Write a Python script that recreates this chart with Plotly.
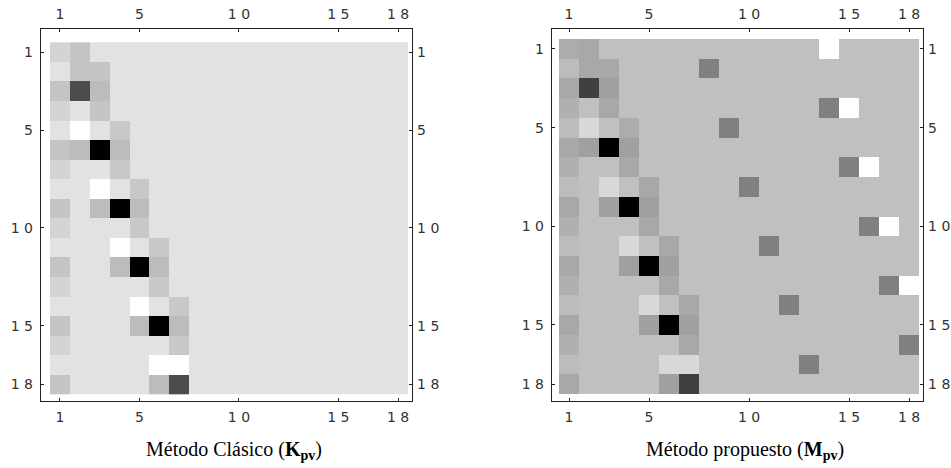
import plotly.graph_objects as go

# ---- data: gray levels (0 = black, 255 = white) ----
N = 18
cols = list(range(1, N + 1))
rows = list(range(1, N + 1))

tick_vals = [1, 5, 10, 15, 18]
tick_text = ["1", "5", "1 0", "1 5", "1 8"]

titles = ["Método Clásico (<b>K<sub>pv</sub></b>)",
          "Método propuesto (<b>M<sub>pv</sub></b>)"]

B = 226  # background, left matrix
K_pv = [
    [212, 196, B, B, B, B, B, B, B, B, B, B, B, B, B, B, B, B],
    [B, 196, 196, B, B, B, B, B, B, B, B, B, B, B, B, B, B, B],
    [196, 76, 188, B, B, B, B, B, B, B, B, B, B, B, B, B, B, B],
    [212, B, 196, B, B, B, B, B, B, B, B, B, B, B, B, B, B, B],
    [B, 255, B, 200, B, B, B, B, B, B, B, B, B, B, B, B, B, B],
    [196, 188, 0, 188, B, B, B, B, B, B, B, B, B, B, B, B, B, B],
    [212, B, B, 200, B, B, B, B, B, B, B, B, B, B, B, B, B, B],
    [B, B, 255, B, 200, B, B, B, B, B, B, B, B, B, B, B, B, B],
    [196, B, 188, 0, 188, B, B, B, B, B, B, B, B, B, B, B, B, B],
    [212, B, B, B, 200, B, B, B, B, B, B, B, B, B, B, B, B, B],
    [B, B, B, 255, B, 200, B, B, B, B, B, B, B, B, B, B, B, B],
    [196, B, B, 188, 0, 188, B, B, B, B, B, B, B, B, B, B, B, B],
    [212, B, B, B, B, 200, B, B, B, B, B, B, B, B, B, B, B, B],
    [B, B, B, B, 255, B, 200, B, B, B, B, B, B, B, B, B, B, B],
    [196, B, B, B, 188, 0, 188, B, B, B, B, B, B, B, B, B, B, B],
    [212, B, B, B, B, B, 200, B, B, B, B, B, B, B, B, B, B, B],
    [B, B, B, B, B, 255, 255, B, B, B, B, B, B, B, B, B, B, B],
    [196, B, B, B, B, 188, 76, B, B, B, B, B, B, B, B, B, B, B],
]

G = 192  # background, right matrix
M_pv = [
    [172, 168, G, G, G, G, G, G, G, G, G, G, G, 255, G, G, G, G],
    [188, 168, 168, G, G, G, G, 128, G, G, G, G, G, G, G, G, G, G],
    [168, 64, 160, G, G, G, G, G, G, G, G, G, G, G, G, G, G, G],
    [176, G, 168, G, G, G, G, G, G, G, G, G, G, 128, 255, G, G, G],
    [188, 216, G, 172, G, G, G, G, 128, G, G, G, G, G, G, G, G, G],
    [168, 160, 0, 160, G, G, G, G, G, G, G, G, G, G, G, G, G, G],
    [176, G, G, 168, G, G, G, G, G, G, G, G, G, G, 128, 255, G, G],
    [188, G, 216, G, 168, G, G, G, G, 128, G, G, G, G, G, G, G, G],
    [168, G, 160, 0, 160, G, G, G, G, G, G, G, G, G, G, G, G, G],
    [176, G, G, G, 168, G, G, G, G, G, G, G, G, G, G, 128, 255, G],
    [188, G, G, 216, G, 168, G, G, G, G, 128, G, G, G, G, G, G, G],
    [168, G, G, 160, 0, 160, G, G, G, G, G, G, G, G, G, G, G, G],
    [176, G, G, G, G, 168, G, G, G, G, G, G, G, G, G, G, 128, 255],
    [188, G, G, G, 216, G, 168, G, G, G, G, 128, G, G, G, G, G, G],
    [168, G, G, G, 160, 0, 160, G, G, G, G, G, G, G, G, G, G, G],
    [176, G, G, G, G, G, 168, G, G, G, G, G, G, G, G, G, G, 128],
    [188, G, G, G, G, 216, 216, G, G, G, G, G, 128, G, G, G, G, G],
    [168, G, G, G, G, 160, 64, G, G, G, G, G, G, G, G, G, G, G],
]

# ---- figure ----
W, H = 951, 468
gray_scale = [[0, "rgb(0,0,0)"], [1, "rgb(255,255,255)"]]

fig = go.Figure()
fig.add_trace(go.Heatmap(z=K_pv, x=cols, y=rows, colorscale=gray_scale,
                         zmin=0, zmax=255, showscale=False,
                         xaxis="x", yaxis="y", hoverinfo="z"))
fig.add_trace(go.Heatmap(z=M_pv, x=cols, y=rows, colorscale=gray_scale,
                         zmin=0, zmax=255, showscale=False,
                         xaxis="x2", yaxis="y2", hoverinfo="z"))
# empty traces so that the mirrored label axes exist
for xa, ya in (("x3", "y3"), ("x4", "y4")):
    fig.add_trace(go.Scatter(x=[None], y=[None], xaxis=xa, yaxis=ya,
                             showlegend=False, hoverinfo="skip"))


def px_x(p):
    return p / W


def px_y(p):
    return 1 - p / H


tick_font = dict(family="DejaVu Sans", size=14, color="#333333")
common = dict(tickmode="array", tickvals=tick_vals, ticktext=tick_text,
              ticks="inside", ticklen=3, tickwidth=1, tickcolor="#222222",
              showline=True, linecolor="#222222", linewidth=1,
              showgrid=False, zeroline=False, tickfont=tick_font,
              fixedrange=True)

# panel geometry (frames)
left_dom = [px_x(40.7), px_x(412.3)]
right_dom = [px_x(551.7), px_x(923.3)]
y_dom = [px_y(400.5), px_y(29.3)]

xr_left = [0.032, 18.716]
yr_left = [18.83, -0.165]
xr_right = [0.135, 18.715]
yr_right = [18.83, 0.008]

xs = dict(ticklabelstandoff=4)
yl = dict(ticklabelstandoff=4)
yr = dict(ticklabelstandoff=1)

fig.update_layout(
    width=W, height=H,
    margin=dict(l=0, r=0, t=0, b=0),
    paper_bgcolor="white", plot_bgcolor="white",
    showlegend=False,
    xaxis=dict(domain=left_dom, range=xr_left, anchor="y", side="bottom", **xs, **common),
    yaxis=dict(domain=y_dom, range=yr_left, anchor="x", side="left", **yl, **common),
    xaxis3=dict(range=xr_left, overlaying="x", anchor="y", side="top", **xs, **common),
    yaxis3=dict(range=yr_left, overlaying="y", anchor="x", side="right", **yr, **common),
    xaxis2=dict(domain=right_dom, range=xr_right, anchor="y2", side="bottom", **xs, **common),
    yaxis2=dict(domain=y_dom, range=yr_right, anchor="x2", side="left", **yl, **common),
    xaxis4=dict(range=xr_right, overlaying="x2", anchor="y2", side="top", **xs, **common),
    yaxis4=dict(range=yr_right, overlaying="y2", anchor="x2", side="right", **yr, **common),
)

title_font = dict(family="Liberation Serif", size=20, color="black")
for xc, txt in zip((px_x(234), px_x(745)), titles):
    fig.add_annotation(text=txt, x=xc, y=px_y(450), xref="paper", yref="paper",
                       xanchor="center", yanchor="middle", showarrow=False,
                       font=title_font)

fig.write_html("out.html",
               config={"displayModeBar": False},
               post_script="document.body.style.margin='0px';"
                           "document.body.style.overflow='hidden';")
